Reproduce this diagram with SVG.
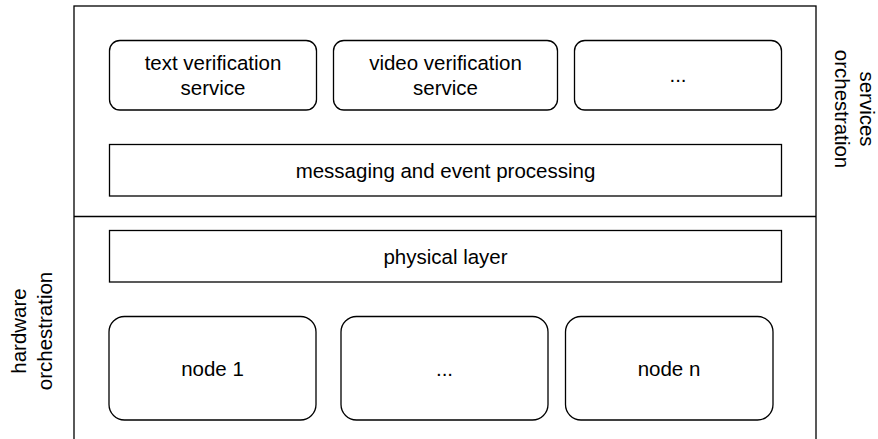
<svg xmlns="http://www.w3.org/2000/svg" width="878" height="439" viewBox="0 0 878 439">
<style>
.box{fill:#ffffff;stroke:#000000;stroke-width:1.3}
.frame{fill:none;stroke:#000000;stroke-width:1.3}
.t{font-family:"Liberation Sans",Arial,sans-serif;font-size:20.5px;fill:#000000;text-anchor:middle}
</style>
<rect width="878" height="439" fill="#ffffff"/>
<g id="frame">
<rect class="frame" x="74" y="6" width="742" height="445"/>
</g>
<g id="connectors">
<line class="frame" x1="74" y1="216.5" x2="816" y2="216.5"/>
</g>
<g id="text-verification">
<rect class="box" x="109.5" y="40.5" width="207" height="69.5" rx="10.4"/>
<text class="t" x="213" y="70">text verification</text>
<text class="t" x="213" y="95">service</text>
</g>
<g id="video-verification">
<rect class="box" x="333.5" y="40.5" width="224" height="69.5" rx="10.4"/>
<text class="t" x="445.5" y="70">video verification</text>
<text class="t" x="445.5" y="95">service</text>
</g>
<g id="service-more">
<rect class="box" x="574.5" y="40.5" width="207" height="69.5" rx="10.4"/>
<text class="t" x="678" y="82">...</text>
</g>
<g id="messaging">
<rect class="box" x="109.5" y="144.5" width="672" height="51.5"/>
<text class="t" x="445.5" y="177.5">messaging and event processing</text>
</g>
<g id="physical">
<rect class="box" x="109.5" y="230.5" width="672" height="51.5"/>
<text class="t" x="445.5" y="263.5">physical layer</text>
</g>
<g id="node1">
<rect class="box" x="109" y="316.5" width="207" height="103.5" rx="15.5"/>
<text class="t" x="212.5" y="375.5">node 1</text>
</g>
<g id="node-more">
<rect class="box" x="341" y="316.5" width="207" height="103.5" rx="15.5"/>
<text class="t" x="444.5" y="375.5">...</text>
</g>
<g id="noden">
<rect class="box" x="565.5" y="316.5" width="207.5" height="103.5" rx="15.5"/>
<text class="t" x="669" y="375.5">node n</text>
</g>
<g id="services-label">
<g transform="translate(860,109) rotate(90)">
<text class="t" x="0" y="0">services</text>
<text class="t" x="0" y="25">orchestration</text>
</g>
</g>
<g id="hardware-label">
<g transform="translate(26,331) rotate(-90)">
<text class="t" x="0" y="0">hardware</text>
<text class="t" x="0" y="25.5">orchestration</text>
</g>
</g>
</svg>
